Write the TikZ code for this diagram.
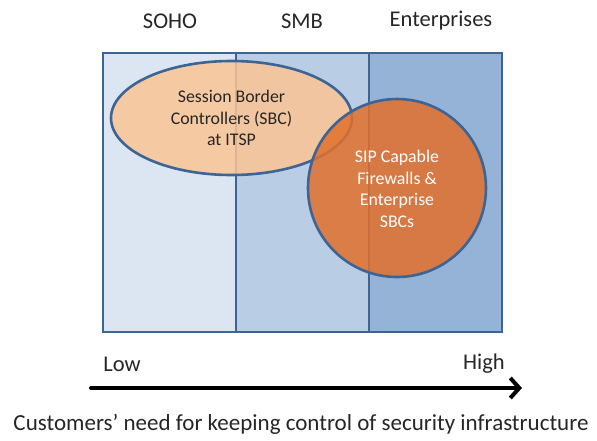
\documentclass[tikz,border=0pt]{standalone}
\usepackage{fontspec}
\setmainfont{Carlito}
\usetikzlibrary{arrows.meta}

\definecolor{segedge}{RGB}{60,101,150}
\definecolor{sohofill}{RGB}{220,230,242}
\definecolor{smbfill}{RGB}{185,205,229}
\definecolor{entfill}{RGB}{149,179,215}
\definecolor{sbcfill}{RGB}{250,196,148}
\definecolor{fwfill}{RGB}{226,112,43}
\definecolor{labeltext}{RGB}{38,38,38}

\tikzset{
    segment/.style={draw=segedge, line width=2.6pt},
    seglabel/.style={font=\fontsize{22.5}{26}\selectfont, text=labeltext},
    blobtext/.style={font=\fontsize{17.8}{21.5}\selectfont, align=center}
}

\begin{document}
\begin{tikzpicture}[x=1pt, y=-1pt]
        \useasboundingbox (0, 0) rectangle (597, 440);
        % market segments
        \fill[sohofill] (103, 53) rectangle (236, 332);
        \fill[smbfill] (236, 53) rectangle (369, 332);
        \fill[entfill] (369, 53) rectangle (502, 332);
        \draw[segment] (103, 53) rectangle (236, 332);
        \draw[segment] (236, 53) rectangle (369, 332);
        \draw[segment] (369, 53) rectangle (502, 332);
        \node[seglabel] (soho) at (170, 21) {SOHO};
        \node[seglabel] (smb) at (302, 21) {SMB};
        \node[seglabel] (ent) at (441, 21) {Enterprises};
        % solutions
        \draw[segment, fill=sbcfill, fill opacity=0.85] (231.5, 118) ellipse (120.5 and 57);
        \node[blobtext, text=labeltext] (sbc) at (231.5, 118) {Session Border\\Controllers (SBC)\\at ITSP};
        \draw[segment, fill=fwfill, fill opacity=0.85] (397, 188) circle (89);
        \node[blobtext, text=white] (fw) at (397, 189) {SIP Capable\\Firewalls \&\\Enterprise\\SBCs};
        % axis
        \coordinate (lowend) at (91, 388);
        \coordinate (highend) at (522, 388);
        \draw[-{Straight Barb[length=9pt, width=20pt]}, line width=4pt, line cap=round] (lowend) -- (highend);
        \node[seglabel] (low) at (122, 364) {Low};
        \node[seglabel] (high) at (484, 364) {High};
        \node[seglabel, font=\fontsize{23}{27}\selectfont] (need) at (301, 424) {Customers’ need for keeping control of security infrastructure};
    \end{tikzpicture}
\end{document}
